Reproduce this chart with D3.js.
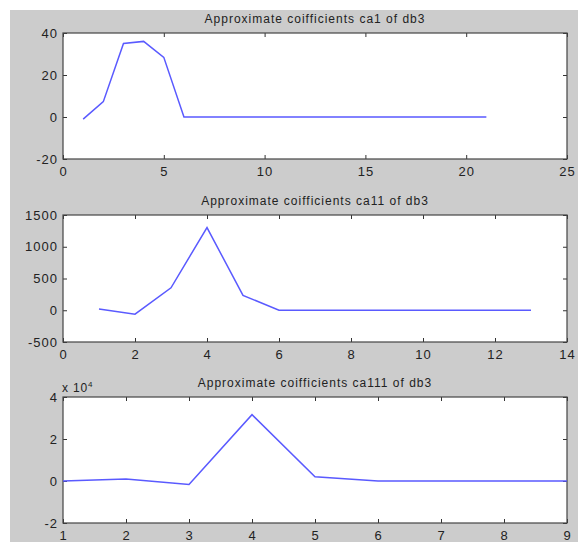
<!DOCTYPE html>
<html>
<head>
<meta charset="utf-8">
<script src="https://cdn.jsdelivr.net/npm/d3@7"></script>
<style>
  body { margin: 0; background: #fff; }
  svg { display: block; font-family: "Liberation Sans", Arial, sans-serif; }
</style>
</head>
<body>
<svg id="chart"></svg>
<script>
// values
const ca1X = d3.range(1, 22);
const ca1Values = [-1, 7.3, 35, 36, 28.4, 0, 0, 0, 0, 0, 0, 0, 0, 0, 0, 0, 0, 0, 0, 0, 0];
const ca11X = d3.range(1, 14);
const ca11Values = [21, -62, 354, 1302, 234, 0, 0, 0, 0, 0, 0, 0, 0];
const ca111X = d3.range(1, 10);
const ca111Values = [0, 0.1, -0.17, 3.16, 0.2, 0, 0, 0, 0]; // x 10^4

const titles = [
  'Approximate coifficients ca1 of db3',
  'Approximate coifficients ca11 of db3',
  'Approximate coifficients ca111 of db3'
];
const xDomains = [[0, 25], [0, 14], [1, 9]];
const yDomains = [[-20, 40], [-500, 1500], [-2, 4]];
const xTicks = [d3.range(0, 26, 5), d3.range(0, 15, 2), d3.range(1, 10, 1)];
const yTicks = [[-20, 0, 20, 40], d3.range(-500, 1501, 500), [-2, 0, 2, 4]];

const width = 578, height = 542;
const svg = d3.select('#chart').attr('width', width).attr('height', height);

svg.append('rect').attr('x', 10).attr('y', 10)
  .attr('width', width - 10).attr('height', height - 10)
  .attr('fill', '#cccccc');

// plot boxes (top, bottom) for each panel
const left = 63, right = 567;
const boxes = [[33, 159], [215, 342], [397, 523]];

const panels = [
  { xs: ca1X, ys: ca1Values },
  { xs: ca11X, ys: ca11Values },
  { xs: ca111X, ys: ca111Values }
];

const plain = d => String(d); // matlab style: no separators, hyphen minus

panels.forEach((p, i) => {
  const [top, bottom] = boxes[i];
  const x = d3.scaleLinear().domain(xDomains[i]).range([left, right]);
  const y = d3.scaleLinear().domain(yDomains[i]).range([bottom, top]);
  const g = svg.append('g');

  g.append('rect')
    .attr('x', left).attr('y', top)
    .attr('width', right - left).attr('height', bottom - top)
    .attr('fill', '#fff');

  // inward ticks on all sides, like matlab
  const tl = 4;
  g.append('g').attr('transform', `translate(0,${bottom})`)
    .call(d3.axisBottom(x).tickValues(xTicks[i]).tickFormat(plain).tickSizeInner(-tl).tickSizeOuter(0).tickPadding(8))
    .call(s => s.select('.domain').remove());
  g.append('g').attr('transform', `translate(0,${top})`)
    .call(d3.axisTop(x).tickValues(xTicks[i]).tickSizeInner(-tl).tickSizeOuter(0).tickFormat(''))
    .call(s => s.select('.domain').remove());
  g.append('g').attr('transform', `translate(${left},0)`)
    .call(d3.axisLeft(y).tickValues(yTicks[i]).tickFormat(plain).tickSizeInner(-tl).tickSizeOuter(0).tickPadding(5))
    .call(s => s.select('.domain').remove());
  g.append('g').attr('transform', `translate(${right},0)`)
    .call(d3.axisRight(y).tickValues(yTicks[i]).tickSizeInner(-tl).tickSizeOuter(0).tickFormat(''))
    .call(s => s.select('.domain').remove());

  g.selectAll('.tick line').attr('stroke', '#333');
  g.selectAll('.tick text').attr('font-size', 13).attr('fill', '#222')
    .attr('letter-spacing', 1)
    .attr('font-family', '"Liberation Sans", Arial, sans-serif');

  g.append('rect')
    .attr('x', left).attr('y', top)
    .attr('width', right - left).attr('height', bottom - top)
    .attr('fill', 'none').attr('stroke', '#444').attr('stroke-width', 1.2);

  const line = d3.line().x(d => x(d[0])).y(d => y(d[1]));
  g.append('path')
    .datum(d3.zip(p.xs, p.ys))
    .attr('d', line)
    .attr('fill', 'none')
    .attr('stroke', '#5a5aff')
    .attr('stroke-width', 1.5);

  g.append('text')
    .attr('x', (left + right) / 2).attr('y', top - 10)
    .attr('text-anchor', 'middle')
    .attr('font-size', 12).attr('letter-spacing', 1).attr('fill', '#222')
    .text(titles[i]);
});

// exponent label of the last panel
const expo = svg.append('text')
  .attr('x', 62).attr('y', 392)
  .attr('font-size', 12).attr('letter-spacing', 0.8).attr('fill', '#222');
expo.append('tspan').text('x 10');
expo.append('tspan').attr('dy', -5).attr('font-size', 8).text('4');
</script>
</body>
</html>
